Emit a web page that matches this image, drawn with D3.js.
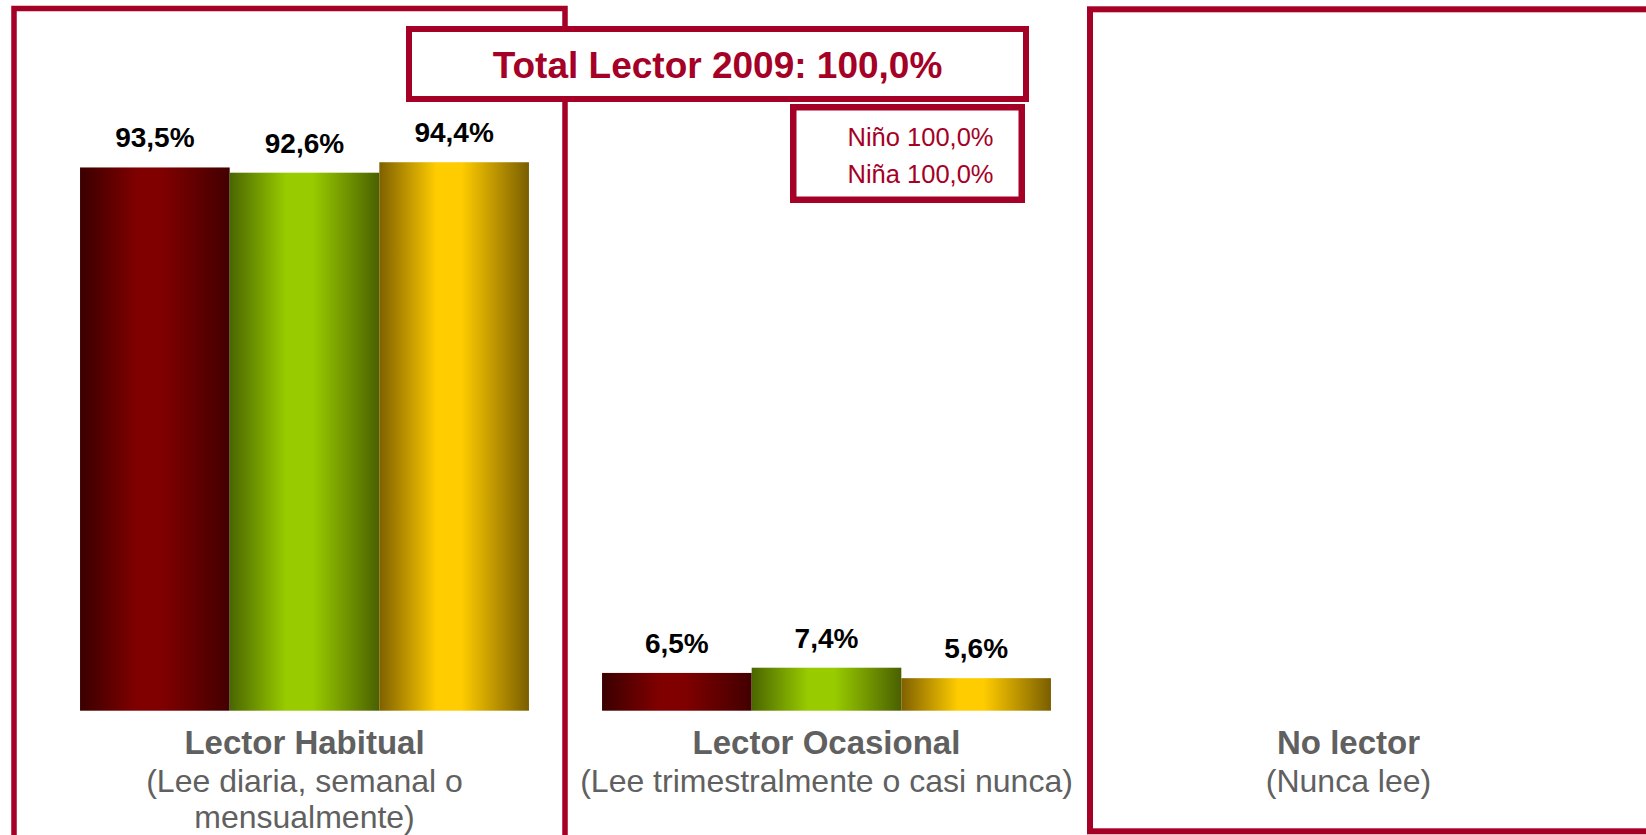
<!DOCTYPE html>
<html>
<head>
<meta charset="utf-8">
<script src="https://cdn.jsdelivr.net/npm/d3@7"></script>
<style>
  html, body { margin: 0; padding: 0; background: #ffffff; }
  svg { display: block; font-family: "Liberation Sans", Arial, sans-serif; }
</style>
</head>
<body>
<svg id="chart" width="1646" height="835"></svg>
<script>
// Reading habits 2009: share of readers by frequency, total and by sex
const categories = ["Lector Habitual", "Lector Ocasional", "No lector"];
const subtitles = [
  ["(Lee diaria, semanal o", "mensualmente)"],
  ["(Lee trimestralmente o casi nunca)"],
  ["(Nunca lee)"]
];
const seriesNames = ["Total", "Niño", "Niña"];
const totalValues = [93.5, 6.5, null];
const ninoValues  = [92.6, 7.4, null];
const ninaValues  = [94.4, 5.6, null];
const summaryLabels = ["Total Lector 2009", "Niño", "Niña"];
const summaryValues = [100.0, 100.0, 100.0];

const RED = "#A50026";
const GREY = "#606060";

const svg = d3.select("#chart");
const fmt = v => d3.format(".1f")(v).replace(".", ",") + "%";

// gradient (edge, centre) colours for each series
const gradients = [
  { id: "gTotal", edge: "#3A0000", mid: "#800000", edge2: "#420000" },
  { id: "gNino",  edge: "#4A6600", mid: "#99CC00", edge2: "#4A6000" },
  { id: "gNina",  edge: "#7F6000", mid: "#FFCC00", edge2: "#7A5E00" }
];
const defs = svg.append("defs");
gradients.forEach(g => {
  const lg = defs.append("linearGradient").attr("id", g.id)
    .attr("x1", "0%").attr("x2", "100%").attr("y1", "0%").attr("y2", "0%");
  lg.append("stop").attr("offset", "0%").attr("stop-color", g.edge);
  lg.append("stop").attr("offset", "38%").attr("stop-color", g.mid);
  lg.append("stop").attr("offset", "55%").attr("stop-color", g.mid);
  lg.append("stop").attr("offset", "100%").attr("stop-color", g.edge2);
});

// framing boxes behind the bars
svg.append("rect")
  .attr("x", 14).attr("y", 8.5).attr("width", 551).attr("height", 832)
  .attr("fill", "none").attr("stroke", RED).attr("stroke-width", 5.5);
svg.append("rect")
  .attr("x", 1090).attr("y", 9.3).attr("width", 600).attr("height", 822)
  .attr("fill", "none").attr("stroke", RED).attr("stroke-width", 6);

// scales
const x = d3.scaleBand().domain(categories)
  .range([43.5, 1609.5]).paddingInner(0.14).paddingOuter(0.07);
const xs = d3.scaleBand().domain(seriesNames).range([0, x.bandwidth()]).padding(0);
const y = d3.scaleLinear().domain([0, 100]).range([710.7, 129.7]);

const seriesValues = [totalValues, ninoValues, ninaValues];
const rows = [];
categories.forEach((c, ci) => {
  seriesNames.forEach((s, si) => {
    const v = seriesValues[si][ci];
    if (v != null) rows.push({ cat: c, series: s, si, value: v });
  });
});

const bars = svg.append("g");
bars.selectAll("rect").data(rows).join("rect")
  .attr("x", d => x(d.cat) + xs(d.series))
  .attr("y", d => y(d.value))
  .attr("width", xs.bandwidth())
  .attr("height", d => y(0) - y(d.value))
  .attr("fill", d => `url(#${gradients[d.si].id})`);

bars.selectAll("text").data(rows).join("text")
  .attr("x", d => x(d.cat) + xs(d.series) + xs.bandwidth() / 2)
  .attr("y", d => y(d.value) - 20)
  .attr("text-anchor", "middle")
  .attr("font-size", 28).attr("font-weight", "bold").attr("fill", "#000")
  .text(d => fmt(d.value));

// category labels under the bars
const cat = svg.append("g");
categories.forEach((c, ci) => {
  const cx = x(c) + x.bandwidth() / 2;
  cat.append("text")
    .attr("x", cx).attr("y", 753.5)
    .attr("text-anchor", "middle")
    .attr("font-size", 33).attr("font-weight", "bold").attr("fill", GREY)
    .text(c);
  subtitles[ci].forEach((line, li) => {
    cat.append("text")
      .attr("x", cx).attr("y", 792 + li * 36)
      .attr("text-anchor", "middle")
      .attr("font-size", 32).attr("fill", GREY)
      .text(line);
  });
});

// total readers box
svg.append("rect")
  .attr("x", 409).attr("y", 29).attr("width", 617).attr("height", 70)
  .attr("fill", "#fff").attr("stroke", RED).attr("stroke-width", 6);
svg.append("text")
  .attr("x", 717.5).attr("y", 77.7)
  .attr("text-anchor", "middle")
  .attr("font-size", 37).attr("font-weight", "bold").attr("fill", RED)
  .text(`${summaryLabels[0]}: ${fmt(summaryValues[0])}`);

// by-sex totals box
svg.append("rect")
  .attr("x", 793.25).attr("y", 107.25).attr("width", 228.5).attr("height", 92.5)
  .attr("fill", "#fff").attr("stroke", RED).attr("stroke-width", 6.5);
[1, 2].forEach((k, i) => {
  svg.append("text")
    .attr("x", 993.5).attr("y", 145.7 + i * 37.6)
    .attr("text-anchor", "end")
    .attr("font-size", 25.5).attr("fill", RED)
    .text(`${summaryLabels[k]} ${fmt(summaryValues[k])}`);
});
</script>
</body>
</html>
